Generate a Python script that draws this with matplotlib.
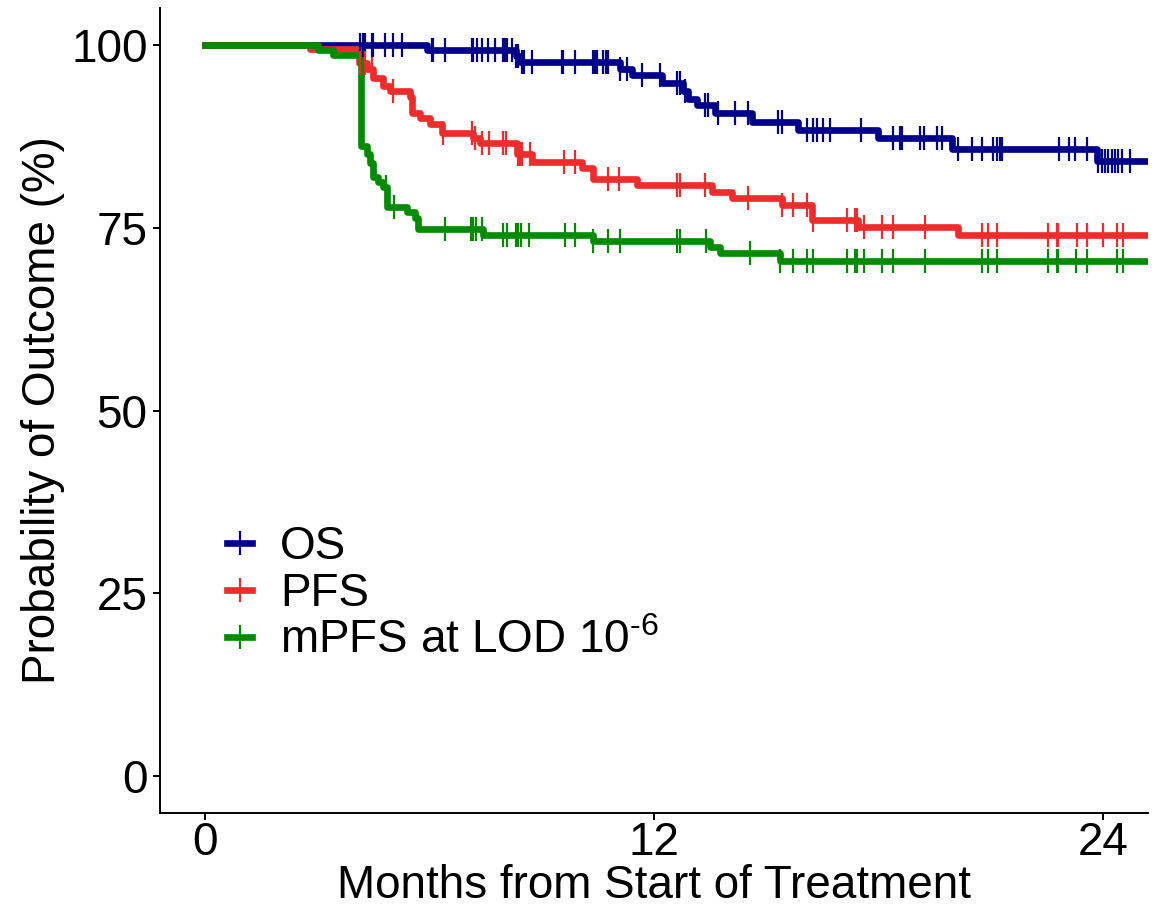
import numpy as np
import matplotlib
matplotlib.use("Agg")
import matplotlib.pyplot as plt
from matplotlib.lines import Line2D

plt.rcParams['font.family'] = ['Liberation Sans', 'DejaVu Sans']
plt.rcParams['mathtext.fontset'] = 'custom'
plt.rcParams['mathtext.rm'] = 'Liberation Sans'
plt.rcParams['mathtext.default'] = 'regular'

# ---------------- data (months, %) ----------------
x_ticks = [0, 12, 24]
y_ticks = [0, 25, 50, 75, 100]
series_names = ["OS", "PFS", "mPFS at LOD 10$^{\\text{-6}}$"]
series_colors = ["#00008B", "#EE2C2C", "#008B00"]
t_end = 25.2

os_times = [0, 5.93, 8.30, 8.42, 11.09, 11.41, 12.21, 12.77, 12.90, 13.15, 13.63, 14.62, 15.85, 17.99, 19.96, 23.84]
os_surv = [100, 99.3, 98.5, 97.6, 96.7, 95.8, 94.8, 93.7, 92.6, 91.7, 90.6, 89.4, 88.3, 87.2, 85.8, 84.1]
os_cens = [4.14, 4.22, 4.28, 4.46, 4.49, 4.81, 5.02, 5.26, 6.07, 6.09, 6.41, 7.14, 7.16, 7.27, 7.40,
           7.56, 7.75, 7.96, 8.02, 8.07, 8.20, 8.31, 8.36, 8.47, 8.52, 8.74, 9.54, 9.57, 9.89, 10.37,
           10.42, 10.48, 10.64, 10.72, 10.77, 11.09, 11.28, 11.68, 12.16, 12.61, 12.69, 12.83, 13.36,
           13.44, 13.71, 14.16, 14.51, 15.31, 15.42, 16.09, 16.25, 16.36, 16.52, 16.70, 17.53, 18.39,
           18.57, 18.63, 19.11, 19.21, 19.56, 19.70, 20.12, 20.50, 20.76, 21.06, 21.17, 21.25, 21.30,
           22.82, 23.09, 23.25, 23.57, 23.86, 23.97, 24.05, 24.13, 24.24, 24.32, 24.40, 24.51, 24.72]

pfs_times = [0, 2.81, 4.12, 4.33, 4.49, 4.76, 4.94, 5.48, 5.53, 5.75, 6.01, 6.33, 7.16, 7.35, 8.34,
             8.74, 10.07, 10.37, 11.54, 13.55, 14.08, 15.42, 16.22, 17.45, 20.12]
pfs_surv = [100, 99.4, 97.5, 96.7, 95.5, 94.4, 93.7, 92.8, 90.7, 90.0, 89.2, 87.9, 87.2, 86.5, 85.1,
            83.9, 83.1, 81.6, 80.8, 79.8, 79.0, 78.1, 76.0, 75.1, 74.0]
pfs_cens = [4.14, 4.28, 4.46, 5.02, 6.36, 7.14, 7.22, 7.40, 7.59, 7.96, 8.04, 8.36, 8.42, 8.47, 8.69,
            9.59, 9.89, 10.77, 11.06, 12.61, 12.69, 13.36, 14.51, 15.42, 15.71, 16.09, 16.25, 17.16,
            17.37, 17.42, 17.61, 18.09, 18.39, 19.24, 20.76, 20.92, 21.17, 22.53, 22.77, 22.80, 23.30,
            23.57, 24.00, 24.37, 24.53]

mpfs_times = [0, 3.02, 3.42, 4.17, 4.33, 4.41, 4.49, 4.62, 4.76, 4.86, 5.40, 5.61, 5.70, 7.43, 10.37,
              13.50, 13.76, 15.37]
mpfs_surv = [100, 99.3, 98.6, 86.2, 85.1, 83.8, 81.9, 81.2, 80.5, 77.8, 77.1, 76.3, 74.8, 74.0, 73.2,
             72.4, 71.5, 70.4]
mpfs_cens = [4.84, 5.05, 6.41, 7.11, 7.16, 7.24, 7.40, 7.96, 8.07, 8.31, 8.36, 8.44, 8.66, 9.62, 9.89,
             10.37, 10.77, 11.09, 12.61, 12.69, 13.39, 14.56, 15.37, 15.71, 16.09, 16.25, 17.16, 17.37,
             17.42, 17.61, 18.09, 18.39, 19.24, 20.76, 20.92, 21.17, 22.53, 22.77, 22.80, 23.28, 23.57,
             24.37, 24.53]

series = [(os_times, os_surv, os_cens), (pfs_times, pfs_surv, pfs_cens), (mpfs_times, mpfs_surv, mpfs_cens)]

# ---------------- plot ----------------
fig = plt.figure(figsize=(11.62, 9.10), dpi=100)
ax = fig.add_axes([0.1377, 0.1066, 0.8503, 0.8846])

FS = 33
LW = 4.8
handles = []
for (tt, ss, cc), name, col in zip(series, series_names, series_colors):
    tt = np.asarray(tt, float)
    ss = np.asarray(ss, float)
    tx = np.append(tt, t_end)
    sx = np.append(ss, ss[-1])
    ax.step(tx, sx, where='post', color=col, lw=LW, solid_joinstyle='round', zorder=2)
    cc = np.asarray(cc, float)
    idx = np.searchsorted(tt, cc, side='right') - 1
    ax.plot(cc, ss[idx], linestyle='none', marker='|', ms=17, mew=1.6, color=col, zorder=3)
    handles.append(Line2D([0], [0], color=col, lw=LW, marker='|', ms=17, mew=1.6, label=name))

ax.set_xlim(-1.2, 25.2)
ax.set_ylim(-5, 105)
ax.set_xticks(x_ticks)
ax.set_yticks(y_ticks)
ax.tick_params(axis='both', labelsize=FS, length=5, width=1.4, pad=4, colors='black')
ax.tick_params(axis='x', pad=1)
for sp in ['top', 'right']:
    ax.spines[sp].set_visible(False)
for sp in ['left', 'bottom']:
    ax.spines[sp].set_linewidth(1.4)

ax.set_xlabel("Months from Start of Treatment", fontsize=FS, labelpad=-1)
ax.set_ylabel("Probability of Outcome (%)", fontsize=FS, labelpad=4)

leg = ax.legend(handles=handles, loc='upper left', bbox_to_anchor=(0.068, 0.358), frameon=False,
                fontsize=FS, handlelength=0.55, handletextpad=0.6, labelspacing=0.07,
                borderaxespad=0, borderpad=0)

fig.savefig("out.png", dpi=100)
